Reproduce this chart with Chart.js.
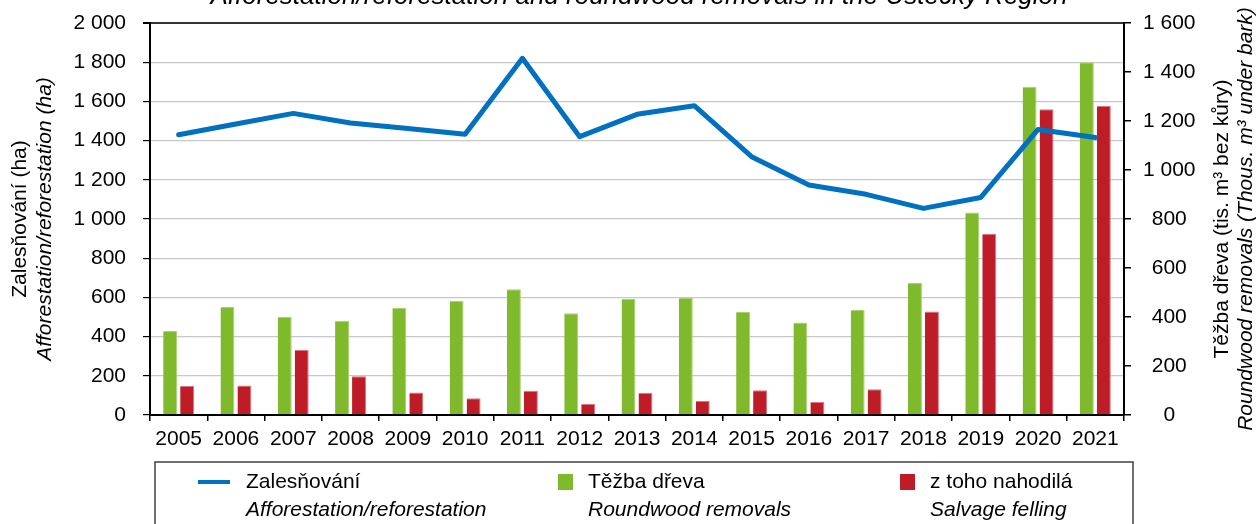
<!DOCTYPE html>
<html><head><meta charset="utf-8">
<script src="https://cdn.jsdelivr.net/npm/chart.js@4.4.1/dist/chart.umd.min.js"></script>
<style>html,body{margin:0;padding:0;background:#fff;overflow:hidden}canvas{display:block}</style>
</head><body>
<canvas id="c" width="1258" height="524"></canvas>
<script>
const years = ['2005','2006','2007','2008','2009','2010','2011','2012','2013','2014','2015','2016','2017','2018','2019','2020','2021'];
const afforestation = [1430, 1485, 1539, 1490, 1462, 1432, 1820, 1420, 1534, 1578, 1318, 1173, 1126, 1054, 1110, 1457, 1416];
const removals = [343, 441, 400, 385, 437, 465, 513, 415, 473, 479, 420, 378, 429, 539, 827, 1340, 1440];
const salvage = [118, 120, 265, 158, 92, 68, 99, 45, 91, 57, 101, 53, 105, 422, 740, 1248, 1261];
const leftAxisMax = 2000;
const rightAxisMax = 1600;
const titleText = 'Afforestation/reforestation and roundwood removals in the Ústecký Region';
const leftTitle = ['Zalesňování (ha)', 'Afforestation/reforestation (ha)'];
const rightTitle = ['Těžba dřeva (tis. m³ bez kůry)', 'Roundwood removals (Thous. m³ under bark)'];
const legendCz = ['Zalesňování', 'Těžba dřeva', 'z toho nahodilá'];
const legendEn = ['Afforestation/reforestation', 'Roundwood removals', 'Salvage felling'];

const BLUE = '#0070C0', GREEN = '#7FBA2C', RED = '#BE1C27';
const FONT = '"Liberation Sans", Arial, sans-serif';
const fmt = v => v >= 1000 ? Math.floor(v/1000) + '\u00a0' + String(v % 1000).padStart(3, '0') : String(v);

const decor = {
  id: 'decor',
  afterDraw(chart) {
    const ctx = chart.ctx, a = chart.chartArea;
    ctx.save();
    ctx.fillStyle = '#000';
    ctx.font = 'italic 26px ' + FONT;
    ctx.textAlign = 'center';
    ctx.textBaseline = 'alphabetic';
    ctx.fillText(titleText, 639, 4);
    const cy = (a.top + a.bottom) / 2;
    const vText = (txt, x, font) => {
      ctx.save(); ctx.translate(x, cy); ctx.rotate(-Math.PI / 2);
      ctx.font = font; ctx.textAlign = 'center'; ctx.textBaseline = 'middle';
      ctx.fillText(txt, 0, 0); ctx.restore();
    };
    vText(leftTitle[0], 20, '21px ' + FONT);
    vText(leftTitle[1], 45, 'italic 21px ' + FONT);
    vText(rightTitle[0], 1222, '21px ' + FONT);
    vText(rightTitle[1], 1246, 'italic 21px ' + FONT);
    ctx.strokeStyle = '#404040'; ctx.lineWidth = 1.5;
    ctx.strokeRect(155, 462, 978, 90);
    const rowY1 = 482, rowY2 = 510;
    ctx.strokeStyle = BLUE; ctx.lineWidth = 4; ctx.lineCap = 'butt';
    ctx.beginPath(); ctx.moveTo(198, rowY1); ctx.lineTo(230, rowY1); ctx.stroke();
    ctx.fillStyle = GREEN; ctx.fillRect(558, rowY1 - 8, 15, 16);
    ctx.fillStyle = RED; ctx.fillRect(900, rowY1 - 8, 15, 16);
    ctx.fillStyle = '#000'; ctx.textAlign = 'left'; ctx.textBaseline = 'middle';
    const xs = [246, 588, 930];
    for (let i = 0; i < 3; i++) {
      ctx.font = '21px ' + FONT; ctx.fillText(legendCz[i], xs[i], rowY1);
      ctx.font = 'italic 21px ' + FONT; ctx.fillText(legendEn[i], xs[i], rowY2);
    }
    ctx.restore();
  }
};

const fitV = w => s => { s.width = w; s.paddingTop = 0; s.paddingBottom = 0; };

new Chart(document.getElementById('c'), {
  data: {
    labels: years,
    datasets: [
      { type: 'line', label: legendCz[0], data: afforestation, yAxisID: 'y', order: 0,
        borderColor: BLUE, borderWidth: 5, pointRadius: 0, tension: 0,
        borderJoinStyle: 'round', borderCapStyle: 'round', fill: false },
      { type: 'bar', label: legendCz[1], data: removals, yAxisID: 'y1', order: 1,
        backgroundColor: GREEN, borderColor: '#A9D274', borderWidth: {top: 1, right: 1, left: 0, bottom: 0},
        categoryPercentage: 0.593, barPercentage: 0.82 },
      { type: 'bar', label: legendCz[2], data: salvage, yAxisID: 'y1', order: 1,
        backgroundColor: RED, borderColor: '#D9777E', borderWidth: {top: 1, right: 1, left: 0, bottom: 0},
        categoryPercentage: 0.593, barPercentage: 0.82 }
    ]
  },
  options: {
    responsive: false, animation: false, devicePixelRatio: 1,
    layout: { padding: { top: 23, left: 0, right: 0, bottom: 0 } },
    plugins: { legend: { display: false }, title: { display: false }, tooltip: { enabled: false } },
    scales: {
      x: {
        afterFit: s => { s.height = 109; s.paddingLeft = 0; s.paddingRight = 0; },
        grid: { display: true, drawOnChartArea: false, drawTicks: true, tickLength: 6, tickColor: '#000', offset: true, lineWidth: 1.5 },
        border: { display: true, color: '#000', width: 2 },
        ticks: { color: '#000', font: { family: FONT, size: 21 }, padding: 6, maxRotation: 0, autoSkip: false }
      },
      y: {
        position: 'left', min: 0, max: leftAxisMax,
        afterFit: fitV(150),
        grid: {
          color: c => c.tick && c.tick.value === leftAxisMax ? '#333' : '#C8C8C8',
          lineWidth: c => c.tick && c.tick.value === leftAxisMax ? 2 : 1.2,
          tickColor: '#000', tickLength: 7, drawTicks: true
        },
        border: { display: true, color: '#000', width: 2 },
        ticks: { stepSize: 200, color: '#000', font: { family: FONT, size: 21 }, padding: 17, callback: v => fmt(v) }
      },
      y1: {
        position: 'right', min: 0, max: rightAxisMax,
        afterFit: fitV(134),
        grid: { drawOnChartArea: false, drawTicks: true, tickLength: 7, tickColor: '#000', lineWidth: 1.5 },
        border: { display: true, color: '#000', width: 2 },
        ticks: { stepSize: 200, color: '#000', font: { family: FONT, size: 21 }, padding: 12, crossAlign: 'center', callback: v => fmt(v) }
      }
    }
  },
  plugins: [decor]
});
</script>
</body></html>
